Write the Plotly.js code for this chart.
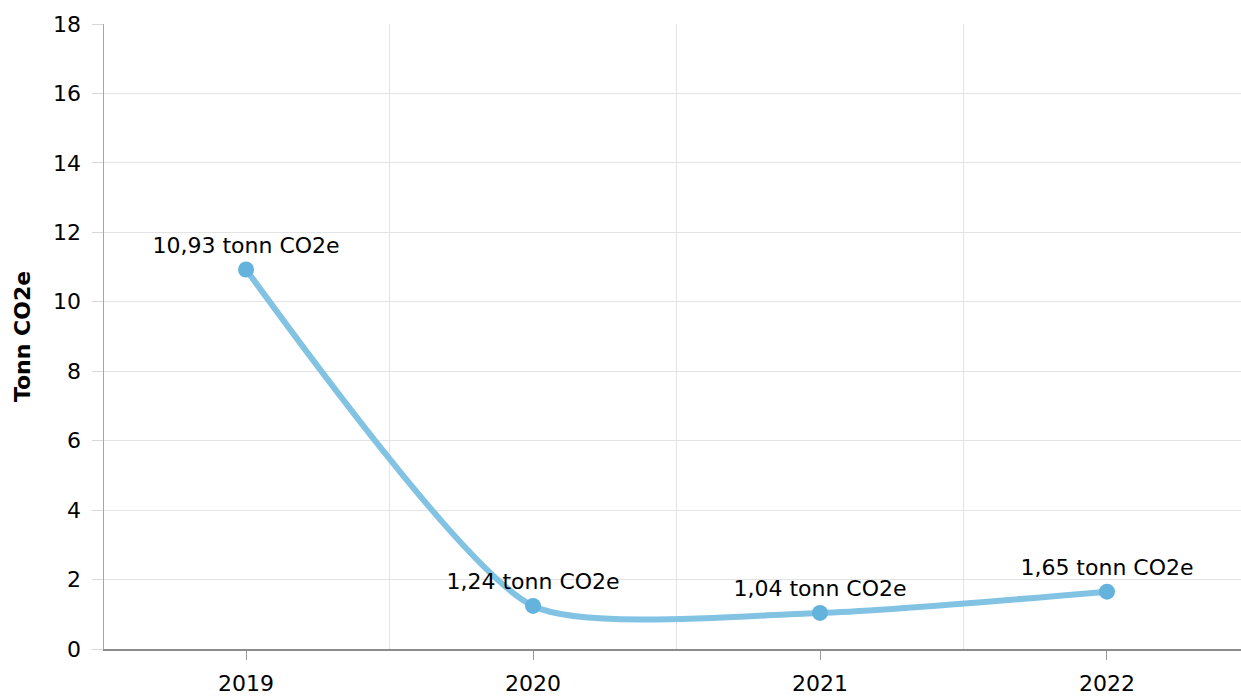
<!DOCTYPE html>
<html>
<head>
<meta charset="utf-8">
<script src="https://cdn.plot.ly/plotly-3.0.1.min.js"></script>
<style>html,body{margin:0;padding:0;background:#fff;}#chart{width:1241px;height:696px;}</style>
</head>
<body>
<div id="chart"></div>
<script>
const years = ["2019", "2020", "2021", "2022"];
const values = [10.93, 1.24, 1.04, 1.65];
const labels = ["10,93 tonn CO2e", "1,24 tonn CO2e", "1,04 tonn CO2e", "1,65 tonn CO2e"];
const yTitle = "Tonn CO2e";

const idx = years.map((_, i) => i);
const boundaries = years.slice(1).map((_, i) => i + 0.5);

const trace = {
  x: idx,
  y: values,
  text: labels,
  type: "scatter",
  mode: "lines+markers+text",
  line: {shape: "spline", smoothing: 0.6, color: "#82c3e3", width: 6},
  marker: {color: "#63b3dc", size: 16},
  textposition: "top center",
  textfont: {family: "DejaVu Sans, Verdana, sans-serif", size: 22, color: "#000"},
  cliponaxis: false,
  hoverinfo: "skip"
};

const layout = {
  width: 1241, height: 696,
  margin: {l: 104, r: 0, t: 24, b: 47},
  paper_bgcolor: "#fff", plot_bgcolor: "#fff",
  showlegend: false,
  font: {family: "DejaVu Sans, Verdana, sans-serif", size: 22, color: "#000"},
  xaxis: {
    range: [-0.495, 3.467],
    tickmode: "array", tickvals: idx, ticktext: years,
    showgrid: false, zeroline: false,
    ticks: "outside", ticklen: 9, tickcolor: "#999", tickwidth: 1,
    ticklabelstandoff: 5,
    showline: true, linecolor: "#8c8c8c", linewidth: 1.5,
    minor: {tickmode: "array", tickvals: boundaries, showgrid: true, gridcolor: "#e3e3e3", gridwidth: 1, ticks: ""},
    tickfont: {size: 22, color: "#000"}
  },
  yaxis: {
    range: [0, 18], dtick: 2, tick0: 0,
    showgrid: true, gridcolor: "#e3e3e3", gridwidth: 1,
    zeroline: false,
    ticks: "outside", ticklen: 11, tickcolor: "#d9d9d9", tickwidth: 1,
    ticklabelstandoff: 6,
    showline: true, linecolor: "#a6a6a6", linewidth: 1.5,
    tickfont: {size: 22, color: "#000"},
    title: {text: yTitle, font: {size: 22, color: "#000", weight: "bold"}, standoff: 16}
  }
};

Plotly.newPlot("chart", [trace], layout, {displayModeBar: false, staticPlot: true});
</script>
</body>
</html>
